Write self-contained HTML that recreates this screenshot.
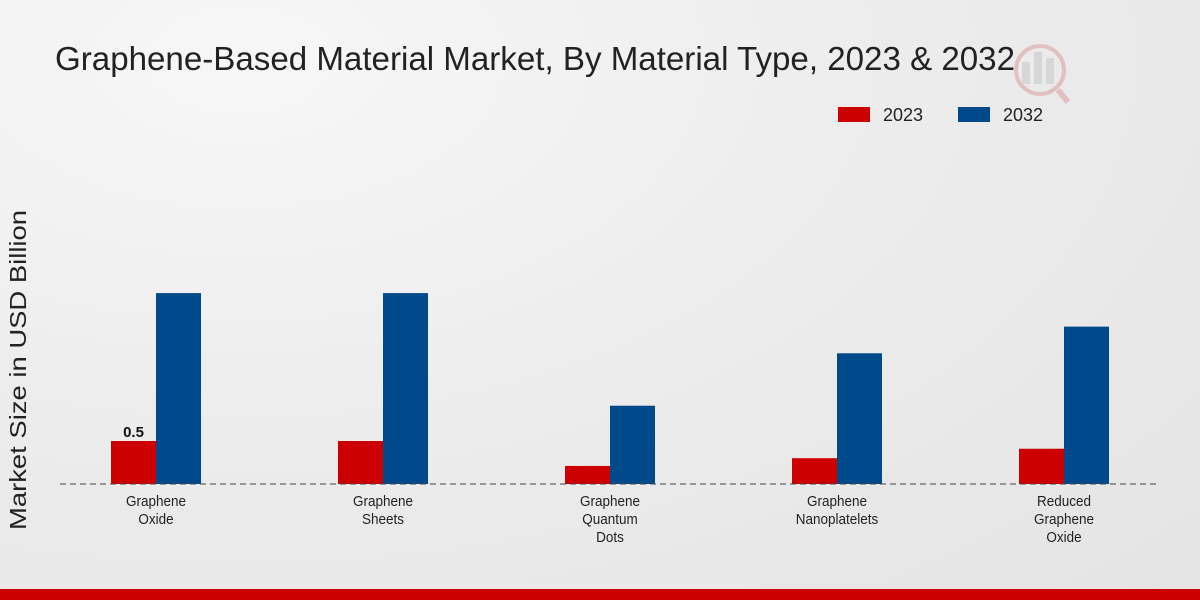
<!DOCTYPE html>
<html><head><meta charset="utf-8"><style>
body{margin:0;width:1200px;height:600px;overflow:hidden;font-family:"Liberation Sans",sans-serif;}
#bg{position:absolute;left:0;top:0;width:1200px;height:600px;background:radial-gradient(ellipse at 20% 10%,#f7f7f7 0%,#ececec 50%,#e4e4e4 100%);}
</style></head><body>
<div id="bg"></div>
<svg id="chart" width="1200" height="600" style="position:absolute;left:0;top:0">
<text x="55" y="70" font-size="33" fill="#222" textLength="960" lengthAdjust="spacingAndGlyphs">Graphene-Based Material Market, By Material Type, 2023 &amp; 2032</text>
<g opacity="0.25">
<circle cx="1040" cy="70" r="24" fill="none" stroke="#c44" stroke-width="4"/>
<rect x="1022" y="62" width="8" height="22" fill="#999"/><rect x="1034" y="52" width="8" height="32" fill="#999"/><rect x="1046" y="58" width="8" height="26" fill="#999"/>
<line x1="1058" y1="90" x2="1068" y2="102" stroke="#c44" stroke-width="6"/>
</g>
<rect x="838" y="107" width="32" height="15" fill="#cc0000"/>
<text x="883" y="121" font-size="18" fill="#222">2023</text>
<rect x="958" y="107" width="32" height="15" fill="#004a8c"/>
<text x="1003" y="121" font-size="18" fill="#222">2032</text>
<text transform="translate(26 370) rotate(-90)" text-anchor="middle" font-size="23" fill="#222" textLength="320" lengthAdjust="spacingAndGlyphs">Market Size in USD Billion</text>
<g id="bars"></g>
<line x1="60" y1="484" x2="1160" y2="484" stroke="#444" stroke-dasharray="6,4"/>
<g id="labels"></g>
<rect x="0" y="589" width="1200" height="11" fill="#cc0000"/>
</svg>
<script>
const categories=[["Graphene","Oxide"],["Graphene","Sheets"],["Graphene","Quantum","Dots"],["Graphene","Nanoplatelets"],["Reduced","Graphene","Oxide"]];
const values2023=[0.5,0.5,0.21,0.3,0.41];
const values2032=[2.22,2.22,0.91,1.52,1.83];
const baseY=484, pxPerUnit=86, x0=156, step=227, bw=45;
const y=v=>baseY-v*pxPerUnit;
const NS="http://www.w3.org/2000/svg";
const bars=document.getElementById('bars'), labels=document.getElementById('labels');
function mk(tag,attrs,parent){const e=document.createElementNS(NS,tag);for(const k in attrs)e.setAttribute(k,attrs[k]);parent.appendChild(e);return e;}
categories.forEach((c,i)=>{
  const cx=x0+i*step;
  const r=mk('rect',{x:cx-bw,y:y(values2023[i]),width:bw,height:baseY-y(values2023[i]),fill:'#cc0000'},bars);
  
  
  const b=mk('rect',{x:cx,y:y(values2032[i]),width:bw,height:baseY-y(values2032[i]),fill:'#004a8c'},bars);
  
  
  c.forEach((line,j)=>{
    const t=mk('text',{x:cx,y:506+j*18,'text-anchor':'middle','font-size':'15',fill:'#222',transform:`translate(${cx} 0) scale(0.9 1) translate(${-cx} 0)`},labels);
    t.textContent=line;
    
    
  });
});
const vl=mk('text',{x:x0-bw/2,y:y(values2023[0])-4,'text-anchor':'middle','font-size':'15','font-weight':'bold',fill:'#111'},labels);
vl.textContent=values2023[0];


</script>
</body></html>
